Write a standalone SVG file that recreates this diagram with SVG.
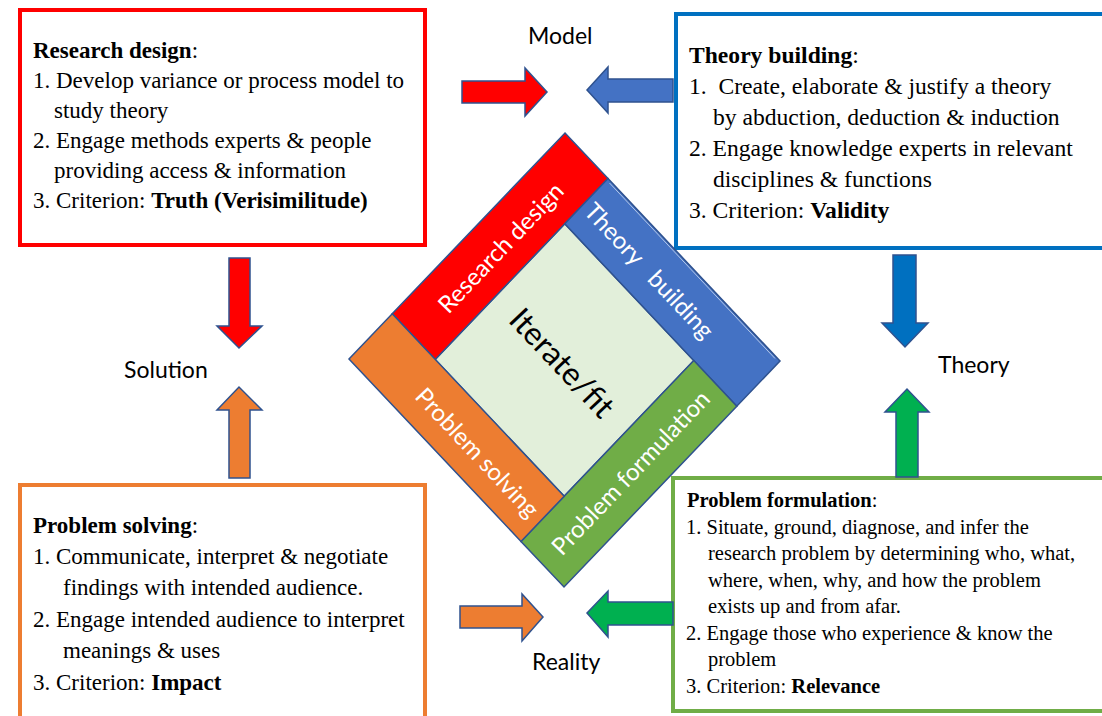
<svg xmlns="http://www.w3.org/2000/svg" width="1102" height="716" viewBox="0 0 1102 716">
<style>
.box{fill:#fff;stroke-width:4}
.bt{font-family:"Liberation Serif","Times New Roman",serif;fill:#000}
.b{font-weight:bold}
.lbl{font-family:Lato,"Liberation Sans",sans-serif;font-size:23px;fill:#000}
.arr{stroke:#2F528F;stroke-width:1.5;stroke-linejoin:miter}
.strip{stroke:#2F528F;stroke-width:1.5;stroke-linejoin:miter}
.st{font-family:Lato,"Liberation Sans",sans-serif;font-size:24px;fill:#fff;text-anchor:middle;dominant-baseline:central}
</style>
<rect width="1102" height="716" fill="#fff"/>

<g id="research-design-box">
<rect class="box" x="20" y="10" width="405" height="235" stroke="#FF0000"/>
<text class="bt" font-size="23">
<tspan x="33" y="58"><tspan class="b">Research design</tspan>:</tspan>
<tspan x="33" y="88">1. Develop variance or process model to</tspan>
<tspan x="54" y="118">study theory</tspan>
<tspan x="33" y="148">2. Engage methods experts &amp; people</tspan>
<tspan x="54" y="178">providing access &amp; information</tspan>
<tspan x="33" y="208">3. Criterion: <tspan class="b">Truth (Verisimilitude)</tspan></tspan>
</text>
</g>

<g id="theory-building-box">
<rect class="box" x="676" y="14" width="440" height="234" stroke="#0070C0"/>
<text class="bt" font-size="23.6" xml:space="preserve"><tspan x="689" y="63"><tspan class="b">Theory building</tspan>:</tspan><tspan x="689" y="94">1.  Create, elaborate &amp; justify a theory</tspan><tspan x="713" y="125">by abduction, deduction &amp; induction</tspan><tspan x="689" y="156">2. Engage knowledge experts in relevant</tspan><tspan x="713" y="187">disciplines &amp; functions</tspan><tspan x="689" y="218">3. Criterion: <tspan class="b">Validity</tspan></tspan></text>
</g>

<g id="problem-solving-box">
<rect class="box" x="20" y="485" width="405" height="245" stroke="#ED7D31"/>
<text class="bt" font-size="23">
<tspan x="33" y="533"><tspan class="b">Problem solving</tspan>:</tspan>
<tspan x="33" y="564">1. Communicate, interpret &amp; negotiate</tspan>
<tspan x="63" y="595">findings with intended audience.</tspan>
<tspan x="33" y="627">2. Engage intended audience to interpret</tspan>
<tspan x="63" y="658">meanings &amp; uses</tspan>
<tspan x="33" y="690">3. Criterion: <tspan class="b">Impact</tspan></tspan>
</text>
</g>

<g id="problem-formulation-box">
<rect class="box" x="673" y="478" width="440" height="233" stroke="#70AD47"/>
<text class="bt" font-size="20.5">
<tspan x="687" y="507"><tspan class="b">Problem formulation</tspan>:</tspan>
<tspan x="686" y="533.5">1. Situate, ground, diagnose, and infer the</tspan>
<tspan x="708" y="560">research problem by determining who, what,</tspan>
<tspan x="708" y="587">where, when, why, and how the problem</tspan>
<tspan x="708" y="613">exists up and from afar.</tspan>
<tspan x="686" y="640">2. Engage those who experience &amp; know the</tspan>
<tspan x="708" y="666">problem</tspan>
<tspan x="686" y="693">3. Criterion: <tspan class="b">Relevance</tspan></tspan>
</text>
</g>

<g id="model-label"><text class="lbl" x="528" y="44">Model</text></g>
<g id="solution-label"><text class="lbl" x="124" y="378">Solution</text></g>
<g id="theory-label"><text class="lbl" x="938" y="373">Theory</text></g>
<g id="reality-label"><text class="lbl" x="532" y="670">Reality</text></g>

<g id="cycle-diamond">
<polygon class="strip" fill="#E2EFDA" points="564.8,223.8 693.8,360.6 564.2,496.2 435.2,359.4"/>
<polygon class="strip" fill="#FF0000" points="565,133 608,178.6 435.2,359.4 392.2,313.8"/>
<polygon class="strip" fill="#4472C4" points="608,178.6 780,361 736.8,406.2 564.8,223.8"/>
<line x1="609.5" y1="183" x2="775" y2="358.5" stroke="#B4C7E7" stroke-width="1"/>
<polygon class="strip" fill="#70AD47" points="693.8,360.6 736.8,406.2 564,587 521,541.4"/>
<polygon class="strip" fill="#ED7D31" points="392.2,313.8 564.2,496.2 521,541.4 349,359"/>
<text class="st" transform="translate(500,247) rotate(-46.3)">Research design</text>
<text class="st" transform="translate(650,270) rotate(46.7)" xml:space="preserve">Theory   building</text>
<text class="st" transform="translate(630,472) rotate(-46.3)">Problem formulation</text>
<text class="st" transform="translate(478,452) rotate(46.7)">Problem solving</text>
<text class="st" style="fill:#000;font-size:32px" transform="translate(563,362) rotate(46.7)">Iterate/fit</text>
</g>

<g id="connectors">
<polygon class="arr" fill="#FF0000" points="462,81 525,81 525,68 547,92 525,116 525,103 462,103"/>
<polygon class="arr" fill="#4472C4" points="673,79 608,79 608,67 587,90 608,113 608,102 673,102"/>
<polygon class="arr" fill="#ED7D31" points="460,606 522,606 522,594 543,617 522,641 522,628 460,628"/>
<polygon class="arr" fill="#00B050" points="673,602 608,602 608,591 587,613 608,637 608,625 673,625"/>
<polygon class="arr" fill="#FF0000" points="229,258 250,258 250,326 262,326 239,348 217,326 229,326"/>
<polygon class="arr" fill="#ED7D31" points="229,478 250,478 250,410 262,410 239,387 217,410 229,410"/>
<polygon class="arr" fill="#0070C0" points="893,255 916,255 916,323 928,323 905,347 882,323 893,323"/>
<polygon class="arr" fill="#00B050" points="896,477 918,477 918,412 929,412 907,389 885,412 896,412"/>
</g>
</svg>
